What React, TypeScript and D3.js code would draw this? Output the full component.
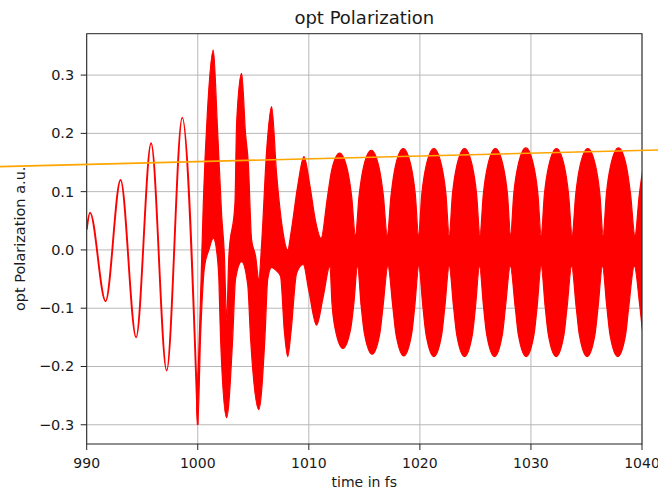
import React from "react";
import * as d3 from "d3";

// ---- data ----
const X_TICKS = [990, 1000, 1010, 1020, 1030, 1040];
const Y_TICKS = [-0.3, -0.2, -0.1, 0.0, 0.1, 0.2, 0.3];
const X_DOMAIN = [990, 1040];
const Y_DOMAIN = [-0.333, 0.371];

// smooth part of the polarization (extrema)
const smoothTime = [990.0, 990.3, 991.7, 993.05, 994.45, 995.8, 997.2, 998.6, 1000.0];
const smoothValue = [0.035, 0.064, -0.088, 0.12, -0.15, 0.183, -0.207, 0.227, -0.3];

// dense (fast-carrier) part, 1000–1011 fs: upper envelope [time, value]
const upperEarly: [number, number][] = [
  [999.9, -0.25], [1000.0, -0.22], [1000.3, -0.05], [1000.5, 0.08], [1000.85, 0.23], [1001.4, 0.343],
  [1001.75, 0.22], [1002.15, 0.06], [1002.4, -0.01], [1002.6, -0.12], [1002.8, -0.01], [1003.35, 0.08],
  [1003.5, 0.218], [1003.95, 0.303], [1004.3, 0.2], [1004.55, 0.149], [1004.85, 0.017], [1005.2, -0.01],
  [1005.5, -0.05], [1005.75, 0.01], [1006.2, 0.17], [1006.65, 0.246], [1007.1, 0.13], [1007.6, 0.04],
  [1008.1, 0.0], [1008.4, 0.03], [1009.0, 0.11], [1009.56, 0.16], [1010.1, 0.11], [1010.6, 0.05],
  [1011.1, 0.02],
];
// dense part, 1000–1012 fs: lower envelope [time, value]
const lowerEarly: [number, number][] = [
  [999.9, -0.27], [1000.0, -0.3], [1000.25, -0.15], [1000.6, -0.03], [1001.0, 0.0], [1001.4, 0.02],
  [1001.75, -0.01], [1001.9, -0.05], [1002.05, -0.15], [1002.6, -0.288], [1003.15, -0.15], [1003.4, -0.05],
  [1003.95, -0.02], [1004.5, -0.06], [1004.75, -0.15], [1005.5, -0.274], [1006.05, -0.15], [1006.3, -0.05],
  [1006.65, -0.03], [1007.05, -0.035], [1007.45, -0.045], [1007.8, -0.14], [1008.1, -0.183], [1008.4, -0.14],
  [1008.9, -0.04], [1009.5, -0.025], [1010.0, -0.07], [1010.7, -0.129], [1011.3, -0.08], [1011.9, -0.028],
];

// steady beating part: lobe maxima of the upper envelope, lobe minima of the lower envelope
const upperLobeTime = [1012.77, 1015.62, 1018.5, 1021.26, 1024.02, 1026.8, 1029.54, 1032.3, 1035.12, 1037.88, 1040.85];
const upperLobePeak = [0.166, 0.171, 0.174, 0.174, 0.174, 0.174, 0.175, 0.174, 0.174, 0.175, 0.175];
const upperGapValue = 0.025; // narrowest point of the upper envelope between lobes
const lowerLobeTime = [1013.07, 1015.7, 1018.55, 1021.26, 1024.02, 1026.72, 1029.57, 1032.27, 1035.06, 1037.82, 1040.8];
const lowerLobeTrough = [-0.169, -0.179, -0.182, -0.183, -0.183, -0.183, -0.183, -0.183, -0.183, -0.183, -0.183];
const lowerGapValue = -0.028;
// shape of one lobe: [time offset from lobe centre, fraction of lobe height]
const upperLobeShape: [number, number][] = [[-1.09, 0.47], [-0.7, 0.8], [0, 1], [0.7, 0.8], [1.09, 0.47]];
const lowerLobeShape: [number, number][] = [[-0.98, 0.46], [-0.7, 0.76], [0, 1], [0.7, 0.76], [0.98, 0.46]];

// orange straight line (extends beyond the axes)
const orangeTime = [982.2, 1041.5];
const orangeValue = [0.1429, 0.1715];

const TITLE = "opt Polarization";
const X_LABEL = "time in fs";
const Y_LABEL = "opt Polarization a.u.";

function buildLobes(
  times: number[],
  extremes: number[],
  gap: number,
  shape: [number, number][]
): [number, number][] {
  const pts: [number, number][] = [];
  times.forEach((t, i) => {
    if (i > 0) pts.push([(times[i - 1] + t) / 2, gap]);
    shape.forEach(([dt, f]) => pts.push([t + dt, gap + f * (extremes[i] - gap)]));
  });
  return pts;
}

export default function App() {
  const W = 658, H = 494;
  const m = { left: 86.7, right: 642, top: 33.7, bottom: 444 };
  const x = d3.scaleLinear().domain(X_DOMAIN).range([m.left, m.right]);
  const y = d3.scaleLinear().domain(Y_DOMAIN).range([m.bottom, m.top]);

  const upperEnvelope = upperEarly.concat(buildLobes(upperLobeTime, upperLobePeak, upperGapValue, upperLobeShape));
  const lowerEnvelope = lowerEarly.concat(buildLobes(lowerLobeTime, lowerLobeTrough, lowerGapValue, lowerLobeShape));

  const smoothPts: [number, number][] = smoothTime.map((t, i) => [t, smoothValue[i]]);
  const line = d3
    .line<[number, number]>()
    .x((d) => x(d[0]))
    .y((d) => y(d[1]))
    .curve(d3.curveMonotoneX);

  const upperPath = line(upperEnvelope) || "";
  const lowerPath = (line([...lowerEnvelope].reverse()) || "").replace(/^M/, "L");
  const densePath = upperPath + lowerPath + "Z";

  const orangeLine =
    d3
      .line<number>()
      .x((t) => x(t))
      .y((_, i) => y(orangeValue[i]))(orangeTime) || "";

  const fmt = d3.format(".1f");
  const font = "DejaVu Sans, sans-serif";
  const textColor = "#1a1a1a";

  return (
    <svg
      width={W}
      height={H}
      style={{ position: "absolute", left: 0, top: 0, background: "#fff" }}
      fontFamily={font}
    >
      <defs>
        <clipPath id="plotClip">
          <rect x={m.left} y={m.top} width={m.right - m.left} height={m.bottom - m.top} />
        </clipPath>
      </defs>
      {/* grid */}
      <g stroke="#b8b8b8" strokeWidth={1}>
        {X_TICKS.map((t) => (
          <line key={"gx" + t} x1={x(t)} x2={x(t)} y1={m.top} y2={m.bottom} />
        ))}
        {Y_TICKS.map((v) => (
          <line key={"gy" + v} x1={m.left} x2={m.right} y1={y(v)} y2={y(v)} />
        ))}
      </g>
      {/* data */}
      <g clipPath="url(#plotClip)">
        <path d={densePath} fill="#ff0000" stroke="#ff0000" strokeWidth={1.2} strokeLinejoin="round" />
        <path d={line(smoothPts) || ""} fill="none" stroke="#ff0000" strokeWidth={1.9} />
      </g>
      {/* spines */}
      <rect
        x={m.left}
        y={m.top}
        width={m.right - m.left}
        height={m.bottom - m.top}
        fill="none"
        stroke="#222"
        strokeWidth={1}
      />
      {/* x ticks */}
      {X_TICKS.map((t) => (
        <g key={"xt" + t}>
          <line x1={x(t)} x2={x(t)} y1={m.bottom} y2={m.bottom + 6} stroke="#222" />
          <text x={x(t)} y={m.bottom + 24} fontSize={14} textAnchor="middle" fill={textColor}>
            {t}
          </text>
        </g>
      ))}
      {/* y ticks */}
      {Y_TICKS.map((v) => (
        <g key={"yt" + v}>
          <line x1={m.left - 6} x2={m.left} y1={y(v)} y2={y(v)} stroke="#222" />
          <text x={m.left - 12.5} y={y(v) + 5} fontSize={14.5} textAnchor="end" fill={textColor}>
            {fmt(v)}
          </text>
        </g>
      ))}
      {/* orange line (not clipped) */}
      <path d={orangeLine} fill="none" stroke="#ffa500" strokeWidth={1.6} />
      {/* labels */}
      <text x={(m.left + m.right) / 2} y={24} fontSize={18} textAnchor="middle" fill={textColor}>
        {TITLE}
      </text>
      <text x={(m.left + m.right) / 2} y={487} fontSize={14} textAnchor="middle" fill={textColor}>
        {X_LABEL}
      </text>
      <text
        transform={`translate(25, ${(m.top + m.bottom) / 2}) rotate(-90)`}
        fontSize={14.5}
        textAnchor="middle"
        fill={textColor}
      >
        {Y_LABEL}
      </text>
    </svg>
  );
}
